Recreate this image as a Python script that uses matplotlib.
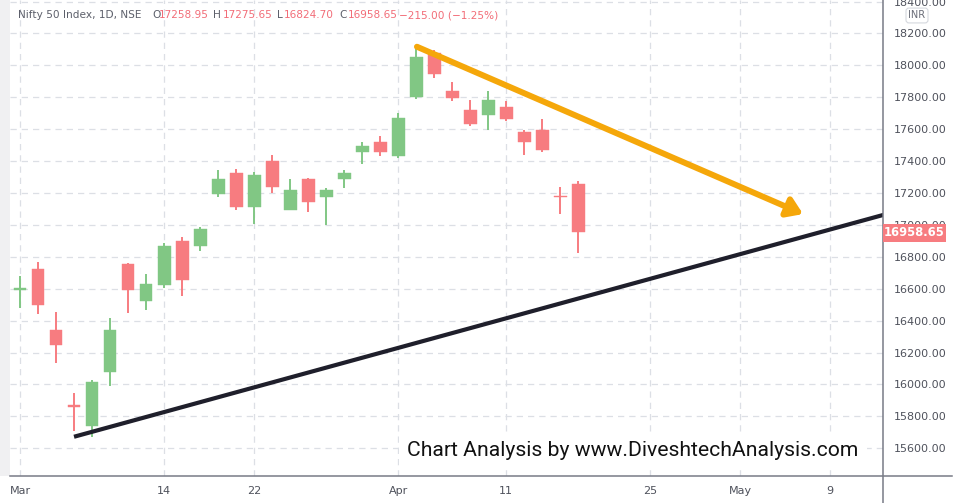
# Nifty 50 daily candles, Mar-Apr 2022, with trend lines

import matplotlib.pyplot as plt
from matplotlib.lines import Line2D
from matplotlib.patches import Rectangle

plt.rcParams['font.family'] = ['DejaVu Sans']

# data
dates = ['Mar 2', 'Mar 3', 'Mar 4', 'Mar 7', 'Mar 8', 'Mar 9', 'Mar 10', 'Mar 11',
         'Mar 14', 'Mar 15', 'Mar 16', 'Mar 17', 'Mar 21', 'Mar 22', 'Mar 23', 'Mar 24',
         'Mar 25', 'Mar 28', 'Mar 29', 'Mar 30', 'Mar 31', 'Apr 1', 'Apr 4', 'Apr 5',
         'Apr 6', 'Apr 7', 'Apr 8', 'Apr 11', 'Apr 12', 'Apr 13', 'Apr 18', 'Apr 19']
opens = [16593, 16723, 16340, 15868, 15742, 16075, 16755, 16525,
         16625, 16899, 16870, 17196, 17325, 17114, 17401, 17091,
         17288, 17177, 17288, 17457, 17520, 17430, 17804, 18080,
         17839, 17720, 17691, 17739, 17583, 17595, 17183, 17258.95]
highs = [16678, 16768, 16455, 15945, 16028, 16416, 16760, 16692,
         16886, 16924, 16987, 17344, 17350, 17332, 17438, 17288,
         17296, 17231, 17344, 17520, 17557, 17702, 18114, 18095,
         17896, 17783, 17839, 17777, 17595, 17664, 17238, 17275.65]
lows = [16478, 16442, 16135, 15710, 15672, 15992, 16450, 16468,
        16604, 16556, 16836, 17178, 17095, 17006, 17202, 17091,
        17078, 17002, 17233, 17382, 17432, 17419, 17792, 17923,
        17779, 17620, 17597, 17651, 17440, 17459, 17070, 16824.70]
closes = [16606, 16498, 16245, 15860, 16014, 16342, 16590, 16630,
          16868, 16656, 16974, 17288, 17114, 17313, 17240, 17220,
          17145, 17220, 17325, 17495, 17457, 17670, 18053, 17948,
          17797, 17634, 17783, 17663, 17522, 17471, 17173, 16958.65]

tick_pos = [0, 8, 13, 21, 27, 35, 40, 45]
tick_labels = ['Mar', '14', '22', 'Apr', '11', '25', 'May', '9']
price_ticks = list(range(15600, 18401, 200))

# hand-drawn lines (bar index, price)
support_x = [3, 49]
support_y = [15672, 17095]
arrow_start = (22.05, 18117)
arrow_end = (43.5, 17068)

GREEN = '#81c784'
RED = '#f77c80'
W, H = 963, 503

fig = plt.figure(figsize=(W / 100, H / 100), dpi=100)
ax = fig.add_axes([10 / W, (H - 476) / H, (883 - 10) / W, 476 / H])

x = list(range(len(opens)))
colors = [GREEN if c >= o else RED for o, c in zip(opens, closes)]
bottoms = [min(o, c) for o, c in zip(opens, closes)]
heights = [max(abs(c - o), 4) for o, c in zip(opens, closes)]

ax.vlines(x, lows, highs, colors=colors, lw=1.4, zorder=2)
ax.bar(x, heights, bottom=bottoms, width=0.72, color=colors, edgecolor=colors,
       linewidth=0.3, zorder=3)

# trend lines
ax.plot(support_x, support_y, color='#1f1f2b', lw=3.0, solid_capstyle='butt', zorder=4)
ax.annotate('', xy=arrow_end, xytext=arrow_start,
            arrowprops=dict(arrowstyle='-|>,head_length=0.9,head_width=0.6',
                            color='#f5a70a', lw=4.3, shrinkA=0, shrinkB=0),
            zorder=5)

ax.set_xlim(-0.556, 47.94)
ax.set_ylim(15426, 18410)

ax.set_xticks(tick_pos, tick_labels)
ax.set_yticks(price_ticks, [f'{p:.2f}' for p in price_ticks])
ax.yaxis.tick_right()
ax.tick_params(axis='both', length=0, labelsize=8.0, colors='#4f525c')
ax.tick_params(axis='y', pad=8)
ax.tick_params(axis='x', pad=7)
ax.grid(True, color='#dcdfe5', lw=0.9, ls=(0, (5, 4)))
ax.set_axisbelow(True)
for s in ax.spines.values():
    s.set_visible(False)

# frame lines and left strip
fig.add_artist(Rectangle((0, (H - 476) / H), 10 / W, 476 / H, transform=fig.transFigure,
                         fc='#f0f0f2', ec='none'))
fig.add_artist(Line2D([10 / W, 952 / W], [(H - 476) / H] * 2, color='#787b86', lw=1.1))
fig.add_artist(Line2D([883 / W] * 2, [0, 1], color='#787b86', lw=1.1))

# last price label
fig.add_artist(Rectangle((883 / W, (H - 242) / H), 63 / W, 18 / H, transform=fig.transFigure,
                         fc=RED, ec='none', zorder=10))
fig.text(914.5 / W, (H - 233) / H, f'{closes[-1]:.2f}', ha='center', va='center',
         color='white', fontsize=8.3, fontweight='bold', zorder=11)

# currency badge
fig.text(917 / W, (H - 15.5) / H, 'INR', ha='center', va='center', color='#6a6d78',
         fontsize=7, bbox=dict(boxstyle='round,pad=0.25,rounding_size=0.3', fc='white',
                               ec='#d5d8de', lw=0.8), zorder=11)

# header
hy = (H - 15) / H
fig.text(18 / W, hy, 'Nifty 50 Index, 1D, NSE', ha='left', va='center', color='#5d606b', fontsize=7.6)
parts = [(152, 'O', '#5d606b'), (159, f'{opens[-1]:.2f}', '#f26d78'),
         (213, 'H', '#5d606b'), (223, f'{highs[-1]:.2f}', '#f26d78'),
         (277, 'L', '#5d606b'), (284, f'{lows[-1]:.2f}', '#f26d78'),
         (339, 'C', '#5d606b'), (348, f'{closes[-1]:.2f}', '#f26d78'),
         (399, '\u2212215.00 (\u22121.25%)', '#f26d78')]
for px, t, c in parts:
    fig.text(px / W, hy, t, ha='left', va='center', color=c, fontsize=7.6)

# watermark
fig.text(633 / W, (H - 451) / H, 'Chart Analysis by www.DiveshtechAnalysis.com',
         ha='center', va='center', color='#111111', fontsize=15.2, family=['Roboto', 'DejaVu Sans'],
         bbox=dict(boxstyle='square,pad=0.4', fc='white', ec='none'), zorder=9)

fig.savefig('out.png', dpi=100)
